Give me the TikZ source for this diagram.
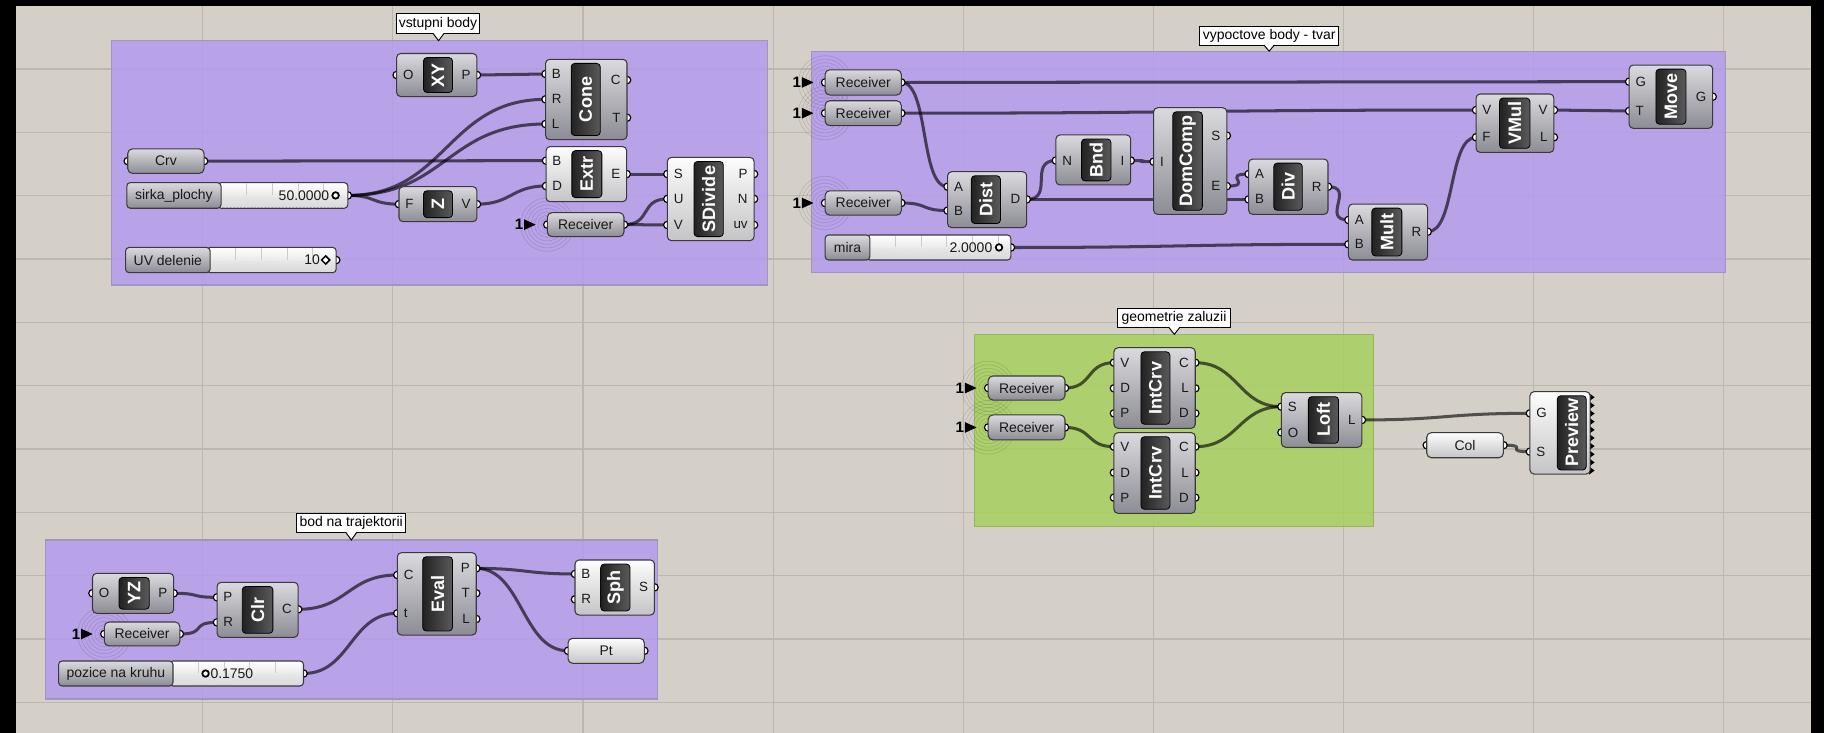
\documentclass[tikz,border=0pt]{standalone}
\usepackage{fontspec}
\setmainfont{Liberation Sans}
\usetikzlibrary{calc,patterns,shapes.geometric}
\pgfdeclarelayer{bg}
\pgfdeclarelayer{wires}
\pgfdeclarelayer{grips}
\pgfsetlayers{bg,wires,grips,main}

\definecolor{canvas}{HTML}{D4D0C8}
\definecolor{gridc}{HTML}{BCB8B0}
\definecolor{purp}{HTML}{B49BEE}
\definecolor{purpedge}{HTML}{A294C2}
\definecolor{grn}{HTML}{A7CF5E}
\definecolor{grnedge}{HTML}{97B462}
\definecolor{cgTop}{HTML}{DADADE}
\definecolor{cgBot}{HTML}{8C8C94}
\definecolor{cwTop}{HTML}{FDFDFD}
\definecolor{cwBot}{HTML}{C4C4C6}
\definecolor{ttTop}{HTML}{5A5A5A}
\definecolor{ttBot}{HTML}{222222}
\definecolor{edgec}{HTML}{3A3A3A}
\definecolor{stBot}{HTML}{D6D6D6}

\newcommand{\ghbody}{\fontsize{12}{12}\selectfont}
\newcommand{\ghport}{\fontsize{11.5}{11.5}\selectfont}
\newcommand{\ghtitle}{\bfseries\fontsize{15.5}{15.5}\selectfont}
\newcommand{\ghone}{\bfseries\fontsize{13}{13}\selectfont}
\newcommand{\ghlabel}{\fontsize{12}{12}\selectfont}

\tikzset{
  compg/.style={rectangle, rounded corners=3.5pt, draw=edgec, line width=0.9pt, top color=cgTop, bottom color=cgBot, inner sep=0pt, outer sep=0pt},
  compw/.style={compg, top color=cwTop, bottom color=cwBot},
  titlebox/.style={rectangle, rounded corners=3pt, draw=black, line width=0.7pt, left color=ttBot, right color=ttTop, inner sep=0pt, outer sep=0pt, text=white, font=\ghtitle},
  portlbl/.style={inner sep=0pt, outer sep=0pt, font=\ghport, text=black!90},
  gripst/.style={fill=white, draw=black, line width=1pt},
  wirest/.style={draw=black, draw opacity=0.62, line width=2.6pt},
  grp/.style={rectangle, inner sep=0pt, outer sep=0pt, line width=0.9pt, fill opacity=0.85},
  glabel/.style={rectangle, draw=black, line width=0.8pt, fill=white, inner sep=0pt, outer sep=0pt, font=\ghlabel},
  strack/.style={rectangle, rounded corners=3pt, draw=edgec, line width=0.9pt, top color=white, bottom color=stBot, inner sep=0pt, outer sep=0pt},
  ringst/.style={draw=black, draw opacity=0.13, line width=0.5pt},
  txt/.style={inner sep=0pt, outer sep=0pt, font=\ghbody, text=black!90},
}

% component: name, style, x1, y1, x2, y2, title x1, title x2, title
\newcommand{\gcomp}[9]{%
  \node[#2, minimum width={(#5-#3)*1pt}, minimum height={(#6-#4)*1pt}] (#1) at ({(#3+#5)/2},{(#4+#6)/2}) {};
  \node[titlebox, rotate=90, minimum width={(#6-#4-7)*1pt}, minimum height={(#8-#7)*1pt}] (#1-t) at ({(#7+#8)/2},{(#4+#6)/2}) {#9};
}
\newcommand{\gin}[4]{%
  \coordinate (#1-i#2) at (#1.west |- 0,#3);
  \begin{pgfonlayer}{grips}\draw[gripst] (#1-i#2) circle[radius=3.2];\end{pgfonlayer}
  \node[portlbl, anchor=west] (#1-li#2) at ([xshift=5.5pt]#1-i#2) {#4};
}
\newcommand{\gout}[4]{%
  \coordinate (#1-o#2) at (#1.east |- 0,#3);
  \begin{pgfonlayer}{grips}\draw[gripst] (#1-o#2) circle[radius=3.2];\end{pgfonlayer}
  \node[portlbl, anchor=east] (#1-lo#2) at ([xshift=-5.5pt]#1-o#2) {#4};
}
% parameter: name, style, x1, y1, x2, y2, text
\newcommand{\gparam}[7]{%
  \node[#2, rounded corners=4pt, font=\ghbody, text=black!90, minimum width={(#5-#3)*1pt}, minimum height={(#6-#4)*1pt}] (#1) at ({(#3+#5)/2},{(#4+#6)/2}) {#7};
  \coordinate (#1-i) at (#1.west);
  \coordinate (#1-o) at (#1.east);
  \begin{pgfonlayer}{grips}\draw[gripst] (#1-i) circle[radius=3.2];\draw[gripst] (#1-o) circle[radius=3.2];\end{pgfonlayer}
}
% receiver marks
\newcommand{\recvmark}[1]{%
  \begin{pgfonlayer}{bg}\foreach \rr in {5,8,...,23}{\draw[ringst] (#1.west) circle[radius=\rr];}\end{pgfonlayer}
  \node[font=\ghone, anchor=east, inner sep=0pt] (#1-n) at ([xshift=-20.5pt]#1.west) {1};
  \fill ([shift={(-20,-4.6)}]#1.west) -- ([shift={(-10,0)}]#1.west) -- ([shift={(-20,4.6)}]#1.west) -- cycle;
}
% slider: name, x1, y1, xsplit, x2, y2, label
\newcommand{\gslider}[7]{%
  \node[strack, minimum width={(#5-#4+3)*1pt}, minimum height={(#6-#3)*1pt}] (#1-tr) at ({(#4-3+#5)/2},{(#3+#6)/2}) {};
  \begin{scope}
    \clip ({#4},{#3+1}) rectangle ({#5-2},{#6-1});
    \foreach \tk in {1,...,9}{\draw[black!20, line width=0.5pt] ({#4+22*\tk},{#3}) -- ({#4+22*\tk},{(#3+#6)/2});}
    \fill[pattern=north east lines, pattern color=black!12] ({#4},{(#3+#6)/2+1}) rectangle ({#5},{#6});
  \end{scope}
  \node[compg, rounded corners=3pt, font=\ghbody, text=black!90, minimum width={(#4-#2)*1pt}, minimum height={(#6-#3)*1pt}] (#1) at ({(#2+#4)/2},{(#3+#6)/2}) {#7};
  \coordinate (#1-o) at (#1-tr.east);
  \begin{pgfonlayer}{grips}\draw[gripst] (#1-o) circle[radius=3.2];\end{pgfonlayer}
}
\newcommand{\sldot}[3]{\node[draw=black, line width=1.5pt, fill=white, circle, minimum size=5.6pt, inner sep=0pt] (#1) at (#2,#3) {};}
\newcommand{\sldiam}[3]{\node[draw=black, line width=1.3pt, fill=white, diamond, minimum size=7.5pt, inner sep=0pt] (#1) at (#2,#3) {};}
\newcommand{\gptr}[3]{%
  \fill[white] ({#1-4.5},{#2-0.7}) -- (#1,#3) -- ({#1+4.5},{#2-0.7}) -- cycle;
  \draw[line width=0.8pt] ({#1-4.5},#2) -- (#1,#3) -- ({#1+4.5},#2);
}
\newcommand{\wire}[2]{%
  \draw[wirest] let \p1=(#1), \p2=(#2), \n1={max(0.5*abs(\x2-\x1),24pt)} in (\p1) .. controls +(\n1,0pt) and +(-\n1,0pt) .. (\p2);
}

\begin{document}
\begin{tikzpicture}[x=1pt,y=-1pt]
\useasboundingbox (0,0) rectangle (1568,630);

% ---------- canvas, grid, groups ----------
\begin{pgfonlayer}{bg}
  \fill[canvas] (0,0) rectangle (1568,630);
  \foreach \k in {0,...,8}{\draw[gridc, line width=1pt] ({174.2+163.46*\k},0) -- ({174.2+163.46*\k},630);}
  \foreach \k in {0,...,10}{\draw[gridc, line width=1pt] (0,{59.3+54.44*\k}) -- (1568,{59.3+54.44*\k});}
  \node[grp, fill=purp, draw=purpedge, minimum width=564pt, minimum height=210pt] (g1) at (378,140) {};
  \node[grp, fill=purp, draw=purpedge, minimum width=785pt, minimum height=190pt] (g2) at (1090.5,139) {};
  \node[grp, fill=grn, draw=grnedge, minimum width=343pt, minimum height=165.4pt] (g3) at (1009.5,370.1) {};
  \node[grp, fill=purp, draw=purpedge, minimum width=526pt, minimum height=136.7pt] (g4) at (302.1,532.55) {};
\end{pgfonlayer}

% ---------- group labels ----------
\node[glabel, minimum width=71pt, minimum height=17pt] (g1-l) at (376.5,20.5) {vstupni body};
\gptr{377}{29}{35}
\node[glabel, minimum width=120pt, minimum height=16.3pt] (g2-l) at (1091,30.55) {vypoctove body - tvar};
\gptr{1091}{38.7}{44}
\node[glabel, minimum width=96.5pt, minimum height=16.7pt] (g3-l) at (1009.25,273.35) {geometrie zaluzii};
\gptr{1009.5}{281.7}{287.4}
\node[glabel, minimum width=93.7pt, minimum height=16.1pt] (g4-l) at (301.85,449.85) {bod na trajektorii};
\gptr{302}{457.9}{464.2}

% ================= group 1 : vstupni body =================
\gcomp{xy}{compg}{341}{46}{410}{83}{364}{389}{XY}
\gin{xy}{O}{64.5}{O}
\gout{xy}{P}{64.5}{P}

\gcomp{cone}{compg}{469}{51}{539}{120}{491}{516}{Cone}
\gin{cone}{B}{63.6}{B}
\gin{cone}{R}{85.4}{R}
\gin{cone}{L}{106.6}{L}
\gout{cone}{C}{68.8}{C}
\gout{cone}{T}{101.2}{T}

\gcomp{extr}{compw}{469.4}{126}{538.7}{173.4}{491.6}{517.4}{Extr}
\gin{extr}{B}{138.1}{B}
\gin{extr}{D}{159.9}{D}
\gout{extr}{E}{149.6}{E}

\gcomp{sdiv}{compw}{573.7}{135.3}{648.2}{206.9}{596.6}{621.8}{SDivide}
\gin{sdiv}{S}{149.6}{S}
\gin{sdiv}{U}{171}{U}
\gin{sdiv}{V}{193.4}{V}
\gout{sdiv}{P}{149.6}{P}
\gout{sdiv}{N}{171}{N}
\gout{sdiv}{uv}{193.4}{uv}

\gcomp{unitz}{compg}{343}{160.5}{410}{190.6}{364}{389}{Z}
\gin{unitz}{F}{175.5}{F}
\gout{unitz}{V}{175.5}{V}

\gparam{crv}{compg}{109.8}{128}{175.4}{149}{Crv}
\gparam{rec1}{compg}{470.5}{182.8}{536.4}{203.4}{Receiver}
\recvmark{rec1}

\gslider{sirka}{109}{157}{190}{299}{179}{sirka\_plochy}
\node[txt, anchor=east] (sirka-v) at (283,168) {50.0000};
\sldot{sirka-m}{288.5}{168}

\gslider{uvd}{108}{212.7}{180.6}{289}{234.4}{UV delenie}
\node[txt, anchor=east] (uvd-v) at (275,223.5) {10};
\sldiam{uvd-m}{280}{223.5}

% ================= group 2 : vypoctove body =================
\gparam{rA}{compg}{709.3}{60}{774.8}{81.7}{Receiver}
\recvmark{rA}
\gparam{rB}{compg}{709.3}{86.6}{774.8}{108}{Receiver}
\recvmark{rB}
\gparam{rC}{compg}{709.3}{164}{774.8}{185}{Receiver}
\recvmark{rC}

\gslider{mira}{709.3}{202}{747.8}{869}{223.5}{mira}
\node[txt, anchor=east] (mira-v) at (853,212.7) {2.0000};
\sldot{mira-m}{858.8}{212.7}

\gcomp{dist}{compg}{814.6}{147.6}{882.6}{195.7}{835}{860}{Dist}
\gin{dist}{A}{160.5}{A}
\gin{dist}{B}{181}{B}
\gout{dist}{D}{171.4}{D}

\gcomp{bnd}{compg}{907.7}{116}{972}{159}{929.7}{955}{Bnd}
\gin{bnd}{N}{138}{N}
\gout{bnd}{I}{138}{I}

\gcomp{dom}{compg}{991.7}{92.6}{1054.6}{184.3}{1008.2}{1033.6}{DomComp}
\gin{dom}{I}{139}{I}
\gout{dom}{S}{116.6}{S}
\gout{dom}{E}{160}{E}

\gcomp{div}{compg}{1073.4}{136.7}{1141.6}{184.3}{1095}{1119.5}{Div}
\gin{div}{A}{149.6}{A}
\gin{div}{B}{171.4}{B}
\gout{div}{R}{160.5}{R}

\gcomp{mult}{compg}{1159.2}{175.4}{1227.3}{223.5}{1179.3}{1205.1}{Mult}
\gin{mult}{A}{189.1}{A}
\gin{mult}{B}{210}{B}
\gout{mult}{R}{199.2}{R}

\gcomp{vmul}{compg}{1268.9}{80.8}{1335.8}{131}{1289}{1315.2}{VMul}
\gin{vmul}{V}{94.6}{V}
\gin{vmul}{F}{118}{F}
\gout{vmul}{V}{94.6}{V}
\gout{vmul}{L}{118}{L}

\gcomp{move}{compg}{1400.5}{55.9}{1472.3}{110.3}{1423.5}{1449.3}{Move}
\gin{move}{G}{70.2}{G}
\gin{move}{T}{95.4}{T}
\gout{move}{G}{83.1}{G}

% ================= group 3 : geometrie zaluzii =================
\gparam{recA}{compg}{849.5}{323.2}{915.5}{343.9}{Receiver}
\recvmark{recA}
\gparam{recB}{compg}{849.5}{356.7}{915.5}{378.2}{Receiver}
\recvmark{recB}

\gcomp{ic1}{compg}{957.6}{298.9}{1027.5}{368.2}{980.8}{1005.7}{IntCrv}
\gin{ic1}{V}{311.8}{V}
\gin{ic1}{D}{333.8}{D}
\gin{ic1}{P}{355.3}{P}
\gout{ic1}{C}{311.8}{C}
\gout{ic1}{L}{333.8}{L}
\gout{ic1}{D}{355.3}{D}

\gcomp{ic2}{compg}{957.6}{371.9}{1027.5}{441.3}{980.8}{1005.7}{IntCrv}
\gin{ic2}{V}{384}{V}
\gin{ic2}{D}{406.3}{D}
\gin{ic2}{P}{427.8}{P}
\gout{ic2}{C}{384}{C}
\gout{ic2}{L}{406.3}{L}
\gout{ic2}{D}{427.8}{D}

\gcomp{loft}{compg}{1101.6}{337.5}{1170.7}{384.5}{1124.7}{1150.7}{Loft}
\gin{loft}{S}{349.6}{S}
\gin{loft}{O}{371.7}{O}
\gout{loft}{L}{361}{L}

\gparam{col}{compw}{1226.5}{371.9}{1292.4}{393.5}{Col}

\foreach \k in {0,...,9}{\fill[black] (1366,{338+7*\k}) -- (1370.8,{341.5+7*\k}) -- (1366,{345+7*\k}) -- cycle;}
\gcomp{prev}{compw}{1315.2}{336.7}{1367}{407.5}{1338.7}{1363.6}{Preview}
\gin{prev}{G}{355.3}{G}
\gin{prev}{S}{388.3}{S}

% ================= group 4 : bod na trajektorii =================
\gcomp{yz}{compg}{79.5}{492.9}{149.3}{527.2}{102.3}{128.3}{YZ}
\gin{yz}{O}{510}{O}
\gout{yz}{P}{510}{P}

\gparam{rec4}{compg}{89.7}{534.7}{154.6}{555.3}{Receiver}
\recvmark{rec4}

\gcomp{clr}{compg}{186.6}{500.6}{256.3}{547.9}{208.3}{234.6}{Clr}
\gin{clr}{P}{513.5}{P}
\gin{clr}{R}{535}{R}
\gout{clr}{C}{523.8}{C}

\gcomp{eval}{compg}{341.6}{475.1}{409.4}{545.9}{363.4}{389}{Eval}
\gin{eval}{C}{494.3}{C}
\gin{eval}{t}{527.2}{t}
\gout{eval}{P}{488.6}{P}
\gout{eval}{T}{510}{T}
\gout{eval}{L}{532.1}{L}

\gcomp{sph}{compw}{494.3}{481.4}{562.6}{528.7}{516.4}{541.6}{Sph}
\gin{sph}{B}{493.4}{B}
\gin{sph}{R}{515.2}{R}
\gout{sph}{S}{504.9}{S}

\gparam{pt}{compw}{488.3}{548.7}{553.9}{570.2}{Pt}

\gslider{poz}{50.4}{568.2}{148.7}{260.9}{589.7}{pozice na kruhu}
\sldot{poz-m}{176.7}{579}
\node[txt, anchor=west] (poz-v) at (181,579) {0.1750};

% ================= wires =================
\begin{pgfonlayer}{wires}
  \wire{xy-oP}{cone-iB}
  \wire{sirka-o}{cone-iR}
  \wire{sirka-o}{cone-iL}
  \wire{sirka-o}{unitz-iF}
  \wire{crv-o}{extr-iB}
  \wire{unitz-oV}{extr-iD}
  \wire{extr-oE}{sdiv-iS}
  \wire{rec1-o}{sdiv-iU}
  \wire{rec1-o}{sdiv-iV}

  \wire{rA-o}{move-iG}
  \wire{rA-o}{dist-iA}
  \wire{rB-o}{vmul-iV}
  \wire{rC-o}{dist-iB}
  \wire{dist-oD}{bnd-iN}
  \wire{dist-oD}{div-iB}
  \wire{bnd-oI}{dom-iI}
  \wire{dom-oE}{div-iA}
  \wire{div-oR}{mult-iA}
  \wire{mira-o}{mult-iB}
  \wire{mult-oR}{vmul-iF}
  \wire{vmul-oV}{move-iT}

  \wire{recA-o}{ic1-iV}
  \wire{recB-o}{ic2-iV}
  \wire{ic1-oC}{loft-iS}
  \wire{ic2-oC}{loft-iS}
  \wire{loft-oL}{prev-iG}
  \wire{col-o}{prev-iS}

  \wire{yz-oP}{clr-iP}
  \wire{rec4-o}{clr-iR}
  \wire{clr-oC}{eval-iC}
  \wire{poz-o}{eval-it}
  \wire{eval-oP}{sph-iB}
  \wire{eval-oP}{pt-i}
\end{pgfonlayer}

% ---------- black frame ----------
\fill[black] (0,0) rectangle (13.8,630);
\fill[black] (0,0) rectangle (1568,5.2);
\fill[black] (1556.5,0) rectangle (1568,630);
\end{tikzpicture}
\end{document}
